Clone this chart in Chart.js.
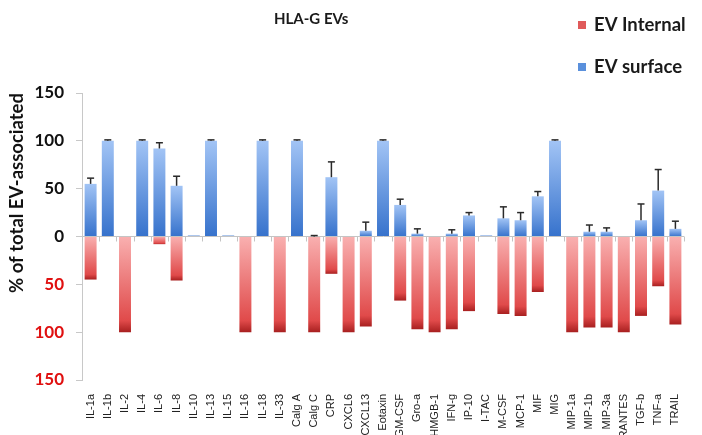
<!DOCTYPE html>
<html>
<head>
<meta charset="utf-8">
<script src="https://cdn.jsdelivr.net/npm/chart.js@4/dist/chart.umd.min.js"></script>
<style>
html,body{margin:0;padding:0;background:#fff;}
#wrap{position:relative;width:702px;height:435px;}
</style>
</head>
<body>
<div id="wrap"><canvas id="c" width="702" height="435"></canvas></div>
<script>
const chartTitle = 'HLA-G EVs';
const yAxisTitle = '% of total EV-associated';
const categories = ['IL-1a','IL-1b','IL-2','IL-4','IL-6','IL-8','IL-10','IL-13','IL-15','IL-16','IL-18','IL-33','Calg A','Calg C','CRP','CXCL6','CXCL13','Eotaxin','GM-CSF','Gro-a','HMGB-1','IFN-g','IP-10','I-TAC','M-CSF','MCP-1','MIF','MIG','MIP-1a','MIP-1b','MIP-3a','RANTES','TGF-b','TNF-a','TRAIL'];
const evSurface  = [55,100,0,100,92,53,1,100,1,0,100,0,100,0,62,0,6,100,33,3,0,3,22,1,19,17,42,100,0,5,5,0,17,48,8];
const evInternal = [45,0,100,0,8,46,0,0,0,100,0,100,0,100,39,100,94,0,67,97,100,97,78,0,81,83,58,0,100,95,95,100,83,52,92];
const surfaceErr = [6,1,0,1,6,10,0,1,0,0,1,0,1,1,16,0,9,1,6,5,0,4,3,0,12,8,5,1,0,7,4,0,17,22,8];
const yTicks = [-150,-100,-50,0,50,100,150];
const legendLabels = ['EV Internal','EV surface'];

function gradFill(kind){
  return function(ctx){
    const chart = ctx.chart;
    const base = kind === 'in' ? '#e05555' : '#4a82d6';
    if (!chart.chartArea || ctx.type !== 'data') return base;
    const ys = chart.scales.y;
    const v = ctx.raw;
    const y0 = ys.getPixelForValue(0), y1 = ys.getPixelForValue(v);
    if (Math.abs(y1 - y0) < 1) return base;
    const c = chart.ctx;
    if (kind === 'su') {
      const g = c.createLinearGradient(0, y1, 0, y0);
      g.addColorStop(0, '#a2c4f5');
      g.addColorStop(1, '#3672cc');
      return g;
    } else {
      const g = c.createLinearGradient(0, y0, 0, y1);
      g.addColorStop(0, '#f9b0b0');
      g.addColorStop(0.88, '#e04a4a');
      g.addColorStop(1, '#a82020');
      return g;
    }
  };
}

const extras = {
  id: 'extras',
  beforeDatasetsDraw(chart){
    const c = chart.ctx, xs = chart.scales.x, ys = chart.scales.y;
    const y0 = ys.getPixelForValue(0);
    c.save();
    c.strokeStyle = '#c4c4c4';
    c.lineWidth = 1;
    for (let i = 0; i <= categories.length; i++) {
      let x;
      if (i === 0) x = chart.chartArea.left;
      else if (i === categories.length) x = chart.chartArea.right;
      else x = (xs.getPixelForValue(i-1) + xs.getPixelForValue(i)) / 2;
      x = Math.round(x) + 0.5;
      c.beginPath(); c.moveTo(x, y0); c.lineTo(x, y0 + 5); c.stroke();
    }
    c.restore();
  },
  afterDatasetsDraw(chart){
    const c = chart.ctx, xs = chart.scales.x, ys = chart.scales.y;
    c.save();
    c.strokeStyle = '#2a2a2a';
    c.lineWidth = 1.5;
    for (let i = 0; i < categories.length; i++) {
      const e = surfaceErr[i];
      if (!e) continue;
      const x = xs.getPixelForValue(i);
      const yt = ys.getPixelForValue(evSurface[i]);
      const ye = ys.getPixelForValue(evSurface[i] + e);
      c.beginPath(); c.moveTo(x, yt); c.lineTo(x, ye); c.stroke();
      c.beginPath(); c.moveTo(x - 3.5, ye); c.lineTo(x + 3.5, ye); c.stroke();
    }
    c.restore();
  },
  afterDraw(chart){
    const c = chart.ctx;
    c.save();
    c.fillStyle = '#1a1a1a';
    c.font = 'bold 15px Lato';
    c.textBaseline = 'middle';
    c.textAlign = 'left';
    c.fillText(chartTitle, 274, 19);
    const cols = ['#e05a5a','#5a90dc'];
    const ly = [25, 67];
    c.font = 'bold 18.5px Lato';
    for (let k = 0; k < 2; k++) {
      c.fillStyle = cols[k];
      c.fillRect(578, ly[k] - 4, 8, 8);
      c.fillStyle = '#1a1a1a';
      c.fillText(legendLabels[k], 594, ly[k]);
    }
    c.restore();
  }
};

new Chart(document.getElementById('c'), {
  type: 'bar',
  data: {
    labels: categories,
    datasets: [
      { label: legendLabels[0], data: evInternal.map(v => -v), backgroundColor: gradFill('in'), borderWidth: 0, stack: 's' },
      { label: legendLabels[1], data: evSurface, backgroundColor: gradFill('su'), borderWidth: 0, stack: 's' }
    ]
  },
  options: {
    responsive: false,
    animation: false,
    layout: { padding: { top: 93, right: 18, left: 0, bottom: 0 } },
    plugins: { legend: { display: false }, title: { display: false }, tooltip: { enabled: false } },
    datasets: { bar: { categoryPercentage: 0.8, barPercentage: 0.87 } },
    scales: {
      x: {
        stacked: true,
        grid: { display: false },
        border: { display: false },
        ticks: { autoSkip: false, minRotation: 90, maxRotation: 90, padding: 6, color: '#222', font: { family: 'Liberation Sans', size: 11 } },
        afterFit(s){ s.height = 55; }
      },
      y: {
        stacked: true,
        min: -150, max: 150,
        afterBuildTicks(s){ s.ticks = yTicks.map(v => ({ value: v })); },
        border: { display: true, color: '#c8c8c8' },
        grid: {
          drawOnChartArea: true,
          drawTicks: true,
          tickLength: 6,
          tickColor: '#c8c8c8',
          color: ctx => (ctx.tick && ctx.tick.value === 0) ? '#c4c4c4' : 'rgba(0,0,0,0)'
        },
        ticks: {
          padding: 12,
          font: { family: 'Lato', size: 17, weight: 'bold' },
          color: ctx => ctx.tick.value < 0 ? '#e01010' : '#111',
          callback: v => String(Math.abs(v))
        },
        title: { display: true, text: yAxisTitle, align: 'end', padding: { top: 6, bottom: 0 }, color: '#111', font: { family: 'Lato', size: 18.5, weight: 'bold' } },
        afterFit(s){ s.width = 82; }
      }
    }
  },
  plugins: [extras]
});
</script>
</body>
</html>
